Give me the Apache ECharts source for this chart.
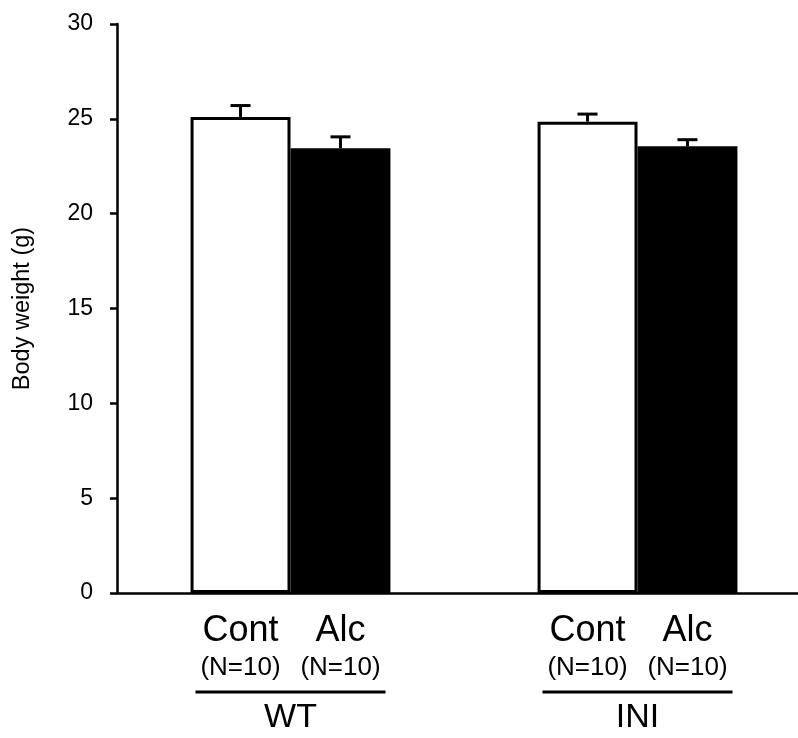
<!DOCTYPE html>
<html>
<head>
<meta charset="utf-8">
<script src="https://cdn.jsdelivr.net/npm/echarts@6/dist/echarts.min.js"></script>
<style>html,body{margin:0;padding:0;background:#fff;}#c{width:798px;height:738px;}</style>
</head>
<body>
<div id="c"></div>
<script>
const groups = ['WT', 'INI'];
const treatments = ['Cont', 'Alc'];
const nLabels = ['(N=10)', '(N=10)'];
const contMeans = [25.1, 24.85];
const contErr = [0.6, 0.4];
const alcMeans = [23.45, 23.55];
const alcErr = [0.6, 0.35];
const yTicks = [0, 5, 10, 15, 20, 25, 30];

const chart = echarts.init(document.getElementById('c'));
const catGap = 0.424;
const FONT = 'Liberation Sans, Arial, sans-serif';

function errSeries(name, means, errs, side) {
  return {
    type: 'custom',
    name: name + ' err',
    z: 10,
    data: means.map((m, i) => [i, m, m + errs[i]]),
    renderItem: function (params, api) {
      const band = api.size([1, 0])[0];
      const bw = band * (1 - catGap) / 2;
      const base = api.coord([api.value(0), api.value(1)]);
      const top = api.coord([api.value(0), api.value(2)]);
      const x = base[0] + side * bw / 2;
      const cap = 10;
      return {
        type: 'group',
        children: [
          { type: 'line', shape: { x1: x, y1: base[1], x2: x, y2: top[1] }, style: { stroke: '#000', lineWidth: 3 } },
          { type: 'line', shape: { x1: x - cap, y1: top[1], x2: x + cap, y2: top[1] }, style: { stroke: '#000', lineWidth: 3 } }
        ]
      };
    }
  };
}

const option = {
  animation: false,
  backgroundColor: '#fff',
  grid: { left: 117, top: 24, width: 694, bottom: 145, containLabel: false, outerBoundsMode: 'none' },
  xAxis: {
    type: 'category',
    data: groups,
    axisTick: { show: false },
    axisLine: { lineStyle: { color: '#000', width: 2.5 } },
    axisLabel: {
      interval: 0,
      margin: 18,
      color: '#000',
      fontFamily: FONT,
      formatter: function (v, idx) {
        return '{t|' + treatments[0] + '}{t|' + treatments[1] + '}\n' +
          '{n|' + nLabels[0] + '}{n|' + nLabels[1] + '}\n' +
          '{u| }\n{g|' + v + '}';
      },
      rich: {
        t: { fontSize: 36, width: 100, align: 'center', lineHeight: 40, color: '#000', fontFamily: FONT },
        n: { fontSize: 26, width: 100, align: 'center', lineHeight: 34, color: '#000', fontFamily: FONT },
        u: { width: 190, height: 3, lineHeight: 14, backgroundColor: '#000', fontSize: 2 },
        g: { fontSize: 34, lineHeight: 38, align: 'center', color: '#000', fontFamily: FONT }
      }
    }
  },
  yAxis: {
    type: 'value',
    min: 0,
    max: 30,
    interval: 5,
    name: 'Body weight (g)',
    nameLocation: 'middle',
    nameGap: 82,
    nameRotate: 90,
    nameTextStyle: { fontSize: 23.5, color: '#000', fontFamily: FONT },
    axisLine: { show: true, lineStyle: { color: '#000', width: 2.5 } },
    axisTick: { show: true, inside: false, length: 7, lineStyle: { color: '#000', width: 2.5 } },
    splitLine: { show: false },
    axisLabel: { fontSize: 23, color: '#000', margin: 24, fontFamily: FONT,
      formatter: function (v) { return yTicks.indexOf(v) >= 0 ? String(v) : ''; } }
  },
  series: [
    {
      type: 'bar', name: treatments[0], data: contMeans,
      barGap: '0%', barCategoryGap: (catGap * 100) + '%',
      itemStyle: { color: '#fff', borderColor: '#000', borderWidth: 3 }
    },
    {
      type: 'bar', name: treatments[1], data: alcMeans,
      barGap: '0%', barCategoryGap: (catGap * 100) + '%',
      itemStyle: { color: '#000', borderColor: '#000', borderWidth: 0 }
    },
    errSeries(treatments[0], contMeans, contErr, -1),
    errSeries(treatments[1], alcMeans, alcErr, 1)
  ]
};
chart.setOption(option);
</script>
</body>
</html>
